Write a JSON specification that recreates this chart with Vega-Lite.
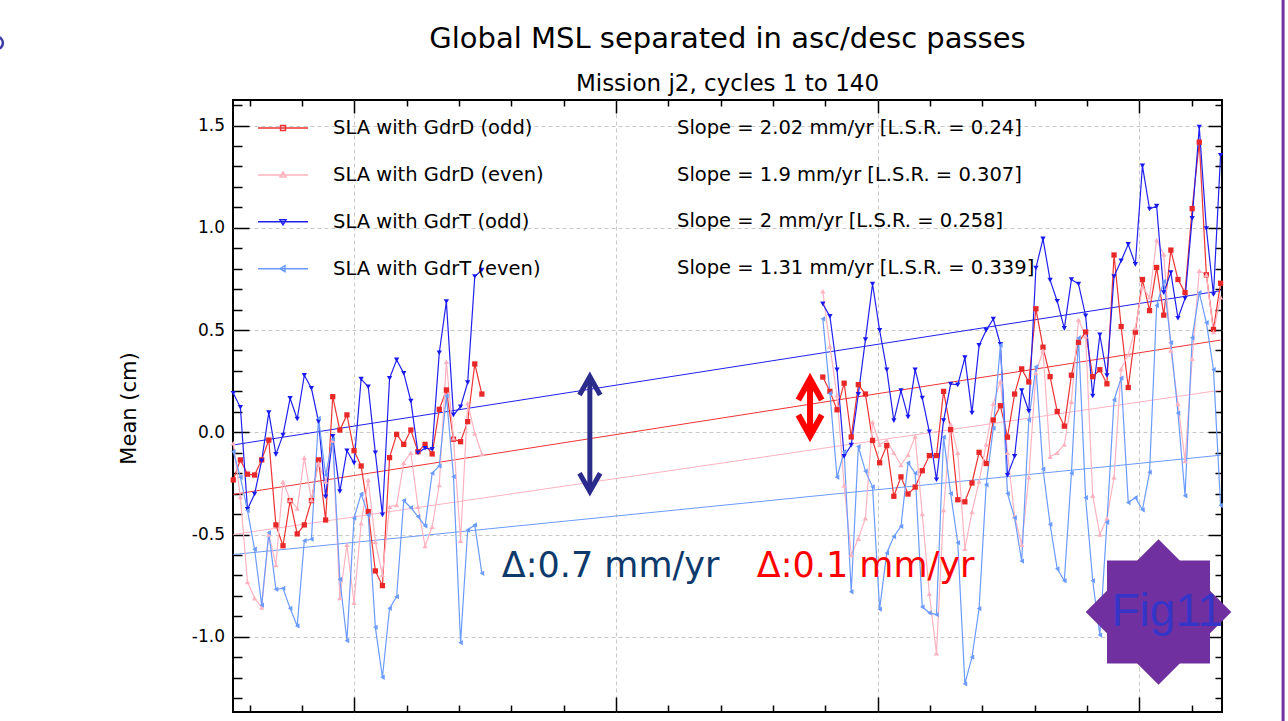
{
"$schema":"https://vega.github.io/schema/vega-lite/v6.json",
"width":989,"height":612,
"autosize":{"type":"none"},
"padding":{"left":233,"top":100,"right":66,"bottom":9},
"background":"#ffffff",
"title":{"text":"Global MSL separated in asc/desc passes","subtitle":"Mission j2, cycles 1 to 140","anchor":"middle","font":"DejaVu Sans","fontSize":29,"fontWeight":"normal","color":"#000000","subtitleFont":"DejaVu Sans","subtitleFontSize":23,"subtitleColor":"#000000","subtitlePadding":19,"offset":-97},
"config":{"view":{"stroke":"#000000","strokeWidth":2}},
"datasets":{
"trend":[
{"series":"SLA with GdrD (odd)","slope":"Slope = 2.02 mm/yr [L.S.R. = 0.24]","cycle":1,"value":-0.304},
{"series":"SLA with GdrD (odd)","slope":"Slope = 2.02 mm/yr [L.S.R. = 0.24]","cycle":140,"value":0.451},
{"series":"SLA with GdrD (even)","slope":"Slope = 1.9 mm/yr [L.S.R. = 0.307]","cycle":1,"value":-0.5},
{"series":"SLA with GdrD (even)","slope":"Slope = 1.9 mm/yr [L.S.R. = 0.307]","cycle":140,"value":0.206},
{"series":"SLA with GdrT (odd)","slope":"Slope = 2 mm/yr [L.S.R. = 0.258]","cycle":1,"value":-0.062},
{"series":"SLA with GdrT (odd)","slope":"Slope = 2 mm/yr [L.S.R. = 0.258]","cycle":140,"value":0.692},
{"series":"SLA with GdrT (even)","slope":"Slope = 1.31 mm/yr [L.S.R. = 0.339]","cycle":1,"value":-0.598},
{"series":"SLA with GdrT (even)","slope":"Slope = 1.31 mm/yr [L.S.R. = 0.339]","cycle":140,"value":-0.112}
],
"sla":[
{"series":"SLA with GdrD (odd)","cycle":1,"value":-0.233},{"series":"SLA with GdrD (odd)","cycle":2,"value":-0.135},{"series":"SLA with GdrD (odd)","cycle":3,"value":-0.205},{"series":"SLA with GdrD (odd)","cycle":4,"value":-0.209},{"series":"SLA with GdrD (odd)","cycle":5,"value":-0.135},{"series":"SLA with GdrD (odd)","cycle":6,"value":-0.038},{"series":"SLA with GdrD (odd)","cycle":7,"value":-0.453},{"series":"SLA with GdrD (odd)","cycle":8,"value":-0.555},{"series":"SLA with GdrD (odd)","cycle":9,"value":-0.334},{"series":"SLA with GdrD (odd)","cycle":10,"value":-0.497},{"series":"SLA with GdrD (odd)","cycle":11,"value":-0.453},{"series":"SLA with GdrD (odd)","cycle":12,"value":-0.334},{"series":"SLA with GdrD (odd)","cycle":13,"value":-0.135},{"series":"SLA with GdrD (odd)","cycle":14,"value":-0.429},{"series":"SLA with GdrD (odd)","cycle":15,"value":0.174},{"series":"SLA with GdrD (odd)","cycle":16,"value":0.011},{"series":"SLA with GdrD (odd)","cycle":17,"value":0.085},{"series":"SLA with GdrD (odd)","cycle":18,"value":-0.09},{"series":"SLA with GdrD (odd)","cycle":19,"value":-0.165},{"series":"SLA with GdrD (odd)","cycle":20,"value":-0.388},{"series":"SLA with GdrD (odd)","cycle":21,"value":-0.678},{"series":"SLA with GdrD (odd)","cycle":22,"value":-0.75},{"series":"SLA with GdrD (odd)","cycle":23,"value":-0.124},{"series":"SLA with GdrD (odd)","cycle":24,"value":-0.01},{"series":"SLA with GdrD (odd)","cycle":25,"value":-0.059},{"series":"SLA with GdrD (odd)","cycle":26,"value":0.011},{"series":"SLA with GdrD (odd)","cycle":27,"value":-0.095},{"series":"SLA with GdrD (odd)","cycle":28,"value":-0.059},{"series":"SLA with GdrD (odd)","cycle":29,"value":-0.106},{"series":"SLA with GdrD (odd)","cycle":30,"value":0.112},{"series":"SLA with GdrD (odd)","cycle":31,"value":0.207},{"series":"SLA with GdrD (odd)","cycle":32,"value":-0.034},{"series":"SLA with GdrD (odd)","cycle":33,"value":-0.046},{"series":"SLA with GdrD (odd)","cycle":34,"value":0.052},{"series":"SLA with GdrD (odd)","cycle":35,"value":0.334},{"series":"SLA with GdrD (odd)","cycle":36,"value":0.187},{"series":"SLA with GdrD (odd)","cycle":60,"value":null},
{"series":"SLA with GdrD (odd)","cycle":84,"value":0.27},{"series":"SLA with GdrD (odd)","cycle":85,"value":0.2},{"series":"SLA with GdrD (odd)","cycle":86,"value":0.11},{"series":"SLA with GdrD (odd)","cycle":87,"value":0.24},{"series":"SLA with GdrD (odd)","cycle":88,"value":-0.023},{"series":"SLA with GdrD (odd)","cycle":89,"value":0.233},{"series":"SLA with GdrD (odd)","cycle":90,"value":0.187},{"series":"SLA with GdrD (odd)","cycle":91,"value":-0.04},{"series":"SLA with GdrD (odd)","cycle":92,"value":-0.149},{"series":"SLA with GdrD (odd)","cycle":93,"value":-0.065},{"series":"SLA with GdrD (odd)","cycle":94,"value":-0.313},{"series":"SLA with GdrD (odd)","cycle":95,"value":-0.218},{"series":"SLA with GdrD (odd)","cycle":96,"value":-0.302},{"series":"SLA with GdrD (odd)","cycle":97,"value":-0.268},{"series":"SLA with GdrD (odd)","cycle":98,"value":-0.188},{"series":"SLA with GdrD (odd)","cycle":99,"value":-0.114},{"series":"SLA with GdrD (odd)","cycle":100,"value":-0.114},{"series":"SLA with GdrD (odd)","cycle":101,"value":0.2},{"series":"SLA with GdrD (odd)","cycle":102,"value":0.013},{"series":"SLA with GdrD (odd)","cycle":103,"value":-0.33},{"series":"SLA with GdrD (odd)","cycle":104,"value":-0.34},{"series":"SLA with GdrD (odd)","cycle":105,"value":-0.248},{"series":"SLA with GdrD (odd)","cycle":106,"value":-0.098},{"series":"SLA with GdrD (odd)","cycle":107,"value":-0.153},{"series":"SLA with GdrD (odd)","cycle":108,"value":0.06},{"series":"SLA with GdrD (odd)","cycle":109,"value":0.13},{"series":"SLA with GdrD (odd)","cycle":110,"value":-0.024},{"series":"SLA with GdrD (odd)","cycle":111,"value":0.187},{"series":"SLA with GdrD (odd)","cycle":112,"value":0.31},{"series":"SLA with GdrD (odd)","cycle":113,"value":0.246},{"series":"SLA with GdrD (odd)","cycle":114,"value":0.604},{"series":"SLA with GdrD (odd)","cycle":115,"value":0.416},{"series":"SLA with GdrD (odd)","cycle":116,"value":0.272},{"series":"SLA with GdrD (odd)","cycle":117,"value":0.102},{"series":"SLA with GdrD (odd)","cycle":118,"value":0.03},{"series":"SLA with GdrD (odd)","cycle":119,"value":0.279},{"series":"SLA with GdrD (odd)","cycle":120,"value":0.44},{"series":"SLA with GdrD (odd)","cycle":121,"value":0.49},{"series":"SLA with GdrD (odd)","cycle":122,"value":0.272},{"series":"SLA with GdrD (odd)","cycle":123,"value":0.306},{"series":"SLA with GdrD (odd)","cycle":124,"value":0.237},{"series":"SLA with GdrD (odd)","cycle":125,"value":0.867},{"series":"SLA with GdrD (odd)","cycle":126,"value":0.517},{"series":"SLA with GdrD (odd)","cycle":127,"value":0.219},{"series":"SLA with GdrD (odd)","cycle":128,"value":0.49},{"series":"SLA with GdrD (odd)","cycle":129,"value":0.747},{"series":"SLA with GdrD (odd)","cycle":130,"value":0.595},{"series":"SLA with GdrD (odd)","cycle":131,"value":0.806},{"series":"SLA with GdrD (odd)","cycle":132,"value":0.573},{"series":"SLA with GdrD (odd)","cycle":133,"value":0.891},{"series":"SLA with GdrD (odd)","cycle":134,"value":0.747},{"series":"SLA with GdrD (odd)","cycle":135,"value":0.683},{"series":"SLA with GdrD (odd)","cycle":136,"value":1.094},{"series":"SLA with GdrD (odd)","cycle":137,"value":1.419},{"series":"SLA with GdrD (odd)","cycle":138,"value":0.77},{"series":"SLA with GdrD (odd)","cycle":139,"value":0.503},{"series":"SLA with GdrD (odd)","cycle":140,"value":0.729},
{"series":"SLA with GdrD (even)","cycle":1,"value":-0.054},{"series":"SLA with GdrD (even)","cycle":2,"value":-0.316},{"series":"SLA with GdrD (even)","cycle":3,"value":-0.732},{"series":"SLA with GdrD (even)","cycle":4,"value":-0.811},{"series":"SLA with GdrD (even)","cycle":5,"value":-0.857},{"series":"SLA with GdrD (even)","cycle":6,"value":-0.5},{"series":"SLA with GdrD (even)","cycle":7,"value":-0.649},{"series":"SLA with GdrD (even)","cycle":8,"value":-0.242},{"series":"SLA with GdrD (even)","cycle":9,"value":-0.331},{"series":"SLA with GdrD (even)","cycle":10,"value":-0.372},{"series":"SLA with GdrD (even)","cycle":11,"value":-0.124},{"series":"SLA with GdrD (even)","cycle":12,"value":-0.331},{"series":"SLA with GdrD (even)","cycle":13,"value":-0.15},{"series":"SLA with GdrD (even)","cycle":14,"value":-0.24},{"series":"SLA with GdrD (even)","cycle":15,"value":-0.04},{"series":"SLA with GdrD (even)","cycle":16,"value":-0.81},{"series":"SLA with GdrD (even)","cycle":17,"value":-0.55},{"series":"SLA with GdrD (even)","cycle":18,"value":-0.833},{"series":"SLA with GdrD (even)","cycle":19,"value":-0.445},{"series":"SLA with GdrD (even)","cycle":20,"value":-0.233},{"series":"SLA with GdrD (even)","cycle":21,"value":-0.535},{"series":"SLA with GdrD (even)","cycle":22,"value":-0.698},{"series":"SLA with GdrD (even)","cycle":23,"value":-0.364},{"series":"SLA with GdrD (even)","cycle":24,"value":-0.356},{"series":"SLA with GdrD (even)","cycle":25,"value":-0.149},{"series":"SLA with GdrD (even)","cycle":26,"value":-0.1},{"series":"SLA with GdrD (even)","cycle":27,"value":-0.364},{"series":"SLA with GdrD (even)","cycle":28,"value":-0.556},{"series":"SLA with GdrD (even)","cycle":29,"value":-0.462},{"series":"SLA with GdrD (even)","cycle":30,"value":-0.258},{"series":"SLA with GdrD (even)","cycle":31,"value":0.345},{"series":"SLA with GdrD (even)","cycle":32,"value":-0.029},{"series":"SLA with GdrD (even)","cycle":33,"value":-0.53},{"series":"SLA with GdrD (even)","cycle":34,"value":0.142},{"series":"SLA with GdrD (even)","cycle":35,"value":-0.005},{"series":"SLA with GdrD (even)","cycle":36,"value":-0.106},{"series":"SLA with GdrD (even)","cycle":60,"value":null},
{"series":"SLA with GdrD (even)","cycle":84,"value":0.69},{"series":"SLA with GdrD (even)","cycle":85,"value":0.42},{"series":"SLA with GdrD (even)","cycle":86,"value":0.18},{"series":"SLA with GdrD (even)","cycle":87,"value":-0.26},{"series":"SLA with GdrD (even)","cycle":88,"value":-0.6},{"series":"SLA with GdrD (even)","cycle":89,"value":-0.52},{"series":"SLA with GdrD (even)","cycle":90,"value":-0.42},{"series":"SLA with GdrD (even)","cycle":91,"value":0.05},{"series":"SLA with GdrD (even)","cycle":92,"value":-0.06},{"series":"SLA with GdrD (even)","cycle":93,"value":-0.04},{"series":"SLA with GdrD (even)","cycle":94,"value":-0.1},{"series":"SLA with GdrD (even)","cycle":95,"value":-0.16},{"series":"SLA with GdrD (even)","cycle":96,"value":-0.11},{"series":"SLA with GdrD (even)","cycle":97,"value":-0.02},{"series":"SLA with GdrD (even)","cycle":98,"value":-0.4},{"series":"SLA with GdrD (even)","cycle":99,"value":-0.79},{"series":"SLA with GdrD (even)","cycle":100,"value":-1.08},{"series":"SLA with GdrD (even)","cycle":101,"value":-0.38},{"series":"SLA with GdrD (even)","cycle":102,"value":0.04},{"series":"SLA with GdrD (even)","cycle":103,"value":-0.1},{"series":"SLA with GdrD (even)","cycle":104,"value":-0.57},{"series":"SLA with GdrD (even)","cycle":105,"value":-0.39},{"series":"SLA with GdrD (even)","cycle":106,"value":-0.24},{"series":"SLA with GdrD (even)","cycle":107,"value":-0.06},{"series":"SLA with GdrD (even)","cycle":108,"value":0.14},{"series":"SLA with GdrD (even)","cycle":109,"value":0.25},{"series":"SLA with GdrD (even)","cycle":110,"value":-0.1},{"series":"SLA with GdrD (even)","cycle":111,"value":-0.41},{"series":"SLA with GdrD (even)","cycle":112,"value":-0.55},{"series":"SLA with GdrD (even)","cycle":113,"value":-0.22},{"series":"SLA with GdrD (even)","cycle":114,"value":0.29},{"series":"SLA with GdrD (even)","cycle":115,"value":0.4},{"series":"SLA with GdrD (even)","cycle":116,"value":-0.12},{"series":"SLA with GdrD (even)","cycle":117,"value":-0.1},{"series":"SLA with GdrD (even)","cycle":118,"value":-0.06},{"series":"SLA with GdrD (even)","cycle":119,"value":0.15},{"series":"SLA with GdrD (even)","cycle":120,"value":0.55},{"series":"SLA with GdrD (even)","cycle":121,"value":0.47},{"series":"SLA with GdrD (even)","cycle":122,"value":-0.31},{"series":"SLA with GdrD (even)","cycle":123,"value":-0.5},{"series":"SLA with GdrD (even)","cycle":124,"value":-0.42},{"series":"SLA with GdrD (even)","cycle":125,"value":-0.22},{"series":"SLA with GdrD (even)","cycle":126,"value":0.31},{"series":"SLA with GdrD (even)","cycle":127,"value":0.38},{"series":"SLA with GdrD (even)","cycle":128,"value":0.51},{"series":"SLA with GdrD (even)","cycle":129,"value":0.71},{"series":"SLA with GdrD (even)","cycle":130,"value":0.66},{"series":"SLA with GdrD (even)","cycle":131,"value":0.94},{"series":"SLA with GdrD (even)","cycle":132,"value":0.87},{"series":"SLA with GdrD (even)","cycle":133,"value":0.4},{"series":"SLA with GdrD (even)","cycle":134,"value":0.14},{"series":"SLA with GdrD (even)","cycle":135,"value":-0.14},{"series":"SLA with GdrD (even)","cycle":136,"value":0.36},{"series":"SLA with GdrD (even)","cycle":137,"value":0.79},{"series":"SLA with GdrD (even)","cycle":138,"value":0.77},{"series":"SLA with GdrD (even)","cycle":139,"value":0.49},{"series":"SLA with GdrD (even)","cycle":140,"value":0.66},
{"series":"SLA with GdrT (odd)","cycle":1,"value":0.191},{"series":"SLA with GdrT (odd)","cycle":2,"value":0.122},{"series":"SLA with GdrT (odd)","cycle":3,"value":-0.377},{"series":"SLA with GdrT (odd)","cycle":4,"value":-0.302},{"series":"SLA with GdrT (odd)","cycle":5,"value":-0.139},{"series":"SLA with GdrT (odd)","cycle":6,"value":0.096},{"series":"SLA with GdrT (odd)","cycle":7,"value":-0.108},{"series":"SLA with GdrT (odd)","cycle":8,"value":-0.013},{"series":"SLA with GdrT (odd)","cycle":9,"value":0.166},{"series":"SLA with GdrT (odd)","cycle":10,"value":0.065},{"series":"SLA with GdrT (odd)","cycle":11,"value":0.279},{"series":"SLA with GdrT (odd)","cycle":12,"value":0.215},{"series":"SLA with GdrT (odd)","cycle":13,"value":0.052},{"series":"SLA with GdrT (odd)","cycle":14,"value":-0.315},{"series":"SLA with GdrT (odd)","cycle":15,"value":-0.02},{"series":"SLA with GdrT (odd)","cycle":16,"value":-0.29},{"series":"SLA with GdrT (odd)","cycle":17,"value":-0.09},{"series":"SLA with GdrT (odd)","cycle":18,"value":-0.15},{"series":"SLA with GdrT (odd)","cycle":19,"value":0.26},{"series":"SLA with GdrT (odd)","cycle":20,"value":0.223},{"series":"SLA with GdrT (odd)","cycle":21,"value":-0.1},{"series":"SLA with GdrT (odd)","cycle":22,"value":-0.404},{"series":"SLA with GdrT (odd)","cycle":23,"value":0.264},{"series":"SLA with GdrT (odd)","cycle":24,"value":0.354},{"series":"SLA with GdrT (odd)","cycle":25,"value":0.289},{"series":"SLA with GdrT (odd)","cycle":26,"value":0.153},{"series":"SLA with GdrT (odd)","cycle":27,"value":-0.1},{"series":"SLA with GdrT (odd)","cycle":28,"value":-0.078},{"series":"SLA with GdrT (odd)","cycle":29,"value":-0.083},{"series":"SLA with GdrT (odd)","cycle":30,"value":0.389},{"series":"SLA with GdrT (odd)","cycle":31,"value":0.639},{"series":"SLA with GdrT (odd)","cycle":32,"value":0.085},{"series":"SLA with GdrT (odd)","cycle":33,"value":0.125},{"series":"SLA with GdrT (odd)","cycle":34,"value":0.243},{"series":"SLA with GdrT (odd)","cycle":35,"value":0.762},{"series":"SLA with GdrT (odd)","cycle":36,"value":0.794},{"series":"SLA with GdrT (odd)","cycle":60,"value":null},
{"series":"SLA with GdrT (odd)","cycle":84,"value":0.628},{"series":"SLA with GdrT (odd)","cycle":85,"value":0.567},{"series":"SLA with GdrT (odd)","cycle":86,"value":0.306},{"series":"SLA with GdrT (odd)","cycle":87,"value":-0.118},{"series":"SLA with GdrT (odd)","cycle":88,"value":-0.063},{"series":"SLA with GdrT (odd)","cycle":89,"value":0.186},{"series":"SLA with GdrT (odd)","cycle":90,"value":0.453},{"series":"SLA with GdrT (odd)","cycle":91,"value":0.725},{"series":"SLA with GdrT (odd)","cycle":92,"value":0.499},{"series":"SLA with GdrT (odd)","cycle":93,"value":0.306},{"series":"SLA with GdrT (odd)","cycle":94,"value":0.057},{"series":"SLA with GdrT (odd)","cycle":95,"value":0.204},{"series":"SLA with GdrT (odd)","cycle":96,"value":0.075},{"series":"SLA with GdrT (odd)","cycle":97,"value":0.306},{"series":"SLA with GdrT (odd)","cycle":98,"value":0.168},{"series":"SLA with GdrT (odd)","cycle":99,"value":0.002},{"series":"SLA with GdrT (odd)","cycle":100,"value":-0.232},{"series":"SLA with GdrT (odd)","cycle":101,"value":0.057},{"series":"SLA with GdrT (odd)","cycle":102,"value":0.236},{"series":"SLA with GdrT (odd)","cycle":103,"value":0.232},{"series":"SLA with GdrT (odd)","cycle":104,"value":0.365},{"series":"SLA with GdrT (odd)","cycle":105,"value":0.094},{"series":"SLA with GdrT (odd)","cycle":106,"value":0.425},{"series":"SLA with GdrT (odd)","cycle":107,"value":0.499},{"series":"SLA with GdrT (odd)","cycle":108,"value":0.554},{"series":"SLA with GdrT (odd)","cycle":109,"value":0.43},{"series":"SLA with GdrT (odd)","cycle":110,"value":-0.21},{"series":"SLA with GdrT (odd)","cycle":111,"value":-0.118},{"series":"SLA with GdrT (odd)","cycle":112,"value":0.204},{"series":"SLA with GdrT (odd)","cycle":113,"value":0.103},{"series":"SLA with GdrT (odd)","cycle":114,"value":0.803},{"series":"SLA with GdrT (odd)","cycle":115,"value":0.946},{"series":"SLA with GdrT (odd)","cycle":116,"value":0.744},{"series":"SLA with GdrT (odd)","cycle":117,"value":0.641},{"series":"SLA with GdrT (odd)","cycle":118,"value":0.508},{"series":"SLA with GdrT (odd)","cycle":119,"value":0.747},{"series":"SLA with GdrT (odd)","cycle":120,"value":0.725},{"series":"SLA with GdrT (odd)","cycle":121,"value":0.57},{"series":"SLA with GdrT (odd)","cycle":122,"value":0.177},{"series":"SLA with GdrT (odd)","cycle":123,"value":0.477},{"series":"SLA with GdrT (odd)","cycle":124,"value":0.278},{"series":"SLA with GdrT (odd)","cycle":125,"value":0.762},{"series":"SLA with GdrT (odd)","cycle":126,"value":0.839},{"series":"SLA with GdrT (odd)","cycle":127,"value":0.919},{"series":"SLA with GdrT (odd)","cycle":128,"value":0.821},{"series":"SLA with GdrT (odd)","cycle":129,"value":1.303},{"series":"SLA with GdrT (odd)","cycle":130,"value":1.092},{"series":"SLA with GdrT (odd)","cycle":131,"value":1.106},{"series":"SLA with GdrT (odd)","cycle":132,"value":0.683},{"series":"SLA with GdrT (odd)","cycle":133,"value":0.781},{"series":"SLA with GdrT (odd)","cycle":134,"value":0.558},{"series":"SLA with GdrT (odd)","cycle":135,"value":0.655},{"series":"SLA with GdrT (odd)","cycle":136,"value":1.046},{"series":"SLA with GdrT (odd)","cycle":137,"value":1.493},{"series":"SLA with GdrT (odd)","cycle":138,"value":0.996},{"series":"SLA with GdrT (odd)","cycle":139,"value":0.674},{"series":"SLA with GdrT (odd)","cycle":140,"value":1.355},
{"series":"SLA with GdrT (even)","cycle":1,"value":-0.095},{"series":"SLA with GdrT (even)","cycle":2,"value":-0.22},{"series":"SLA with GdrT (even)","cycle":3,"value":-0.383},{"series":"SLA with GdrT (even)","cycle":4,"value":-0.572},{"series":"SLA with GdrT (even)","cycle":5,"value":-0.845},{"series":"SLA with GdrT (even)","cycle":6,"value":-0.491},{"series":"SLA with GdrT (even)","cycle":7,"value":-0.768},{"series":"SLA with GdrT (even)","cycle":8,"value":-0.763},{"series":"SLA with GdrT (even)","cycle":9,"value":-0.861},{"series":"SLA with GdrT (even)","cycle":10,"value":-0.947},{"series":"SLA with GdrT (even)","cycle":11,"value":-0.53},{"series":"SLA with GdrT (even)","cycle":12,"value":-0.523},{"series":"SLA with GdrT (even)","cycle":13,"value":0.068},{"series":"SLA with GdrT (even)","cycle":14,"value":-0.209},{"series":"SLA with GdrT (even)","cycle":15,"value":-0.034},{"series":"SLA with GdrT (even)","cycle":16,"value":-0.719},{"series":"SLA with GdrT (even)","cycle":17,"value":-1.019},{"series":"SLA with GdrT (even)","cycle":18,"value":-0.42},{"series":"SLA with GdrT (even)","cycle":19,"value":-0.302},{"series":"SLA with GdrT (even)","cycle":20,"value":-0.404},{"series":"SLA with GdrT (even)","cycle":21,"value":-0.954},{"series":"SLA with GdrT (even)","cycle":22,"value":-1.198},{"series":"SLA with GdrT (even)","cycle":23,"value":-0.861},{"series":"SLA with GdrT (even)","cycle":24,"value":-0.804},{"series":"SLA with GdrT (even)","cycle":25,"value":-0.334},{"series":"SLA with GdrT (even)","cycle":26,"value":-0.369},{"series":"SLA with GdrT (even)","cycle":27,"value":-0.413},{"series":"SLA with GdrT (even)","cycle":28,"value":-0.458},{"series":"SLA with GdrT (even)","cycle":29,"value":-0.2},{"series":"SLA with GdrT (even)","cycle":30,"value":-0.165},{"series":"SLA with GdrT (even)","cycle":31,"value":0.178},{"series":"SLA with GdrT (even)","cycle":32,"value":-0.217},{"series":"SLA with GdrT (even)","cycle":33,"value":-1.029},{"series":"SLA with GdrT (even)","cycle":34,"value":-0.478},{"series":"SLA with GdrT (even)","cycle":35,"value":-0.453},{"series":"SLA with GdrT (even)","cycle":36,"value":-0.69},{"series":"SLA with GdrT (even)","cycle":60,"value":null},
{"series":"SLA with GdrT (even)","cycle":84,"value":0.555},{"series":"SLA with GdrT (even)","cycle":85,"value":0.19},{"series":"SLA with GdrT (even)","cycle":86,"value":-0.22},{"series":"SLA with GdrT (even)","cycle":87,"value":-0.095},{"series":"SLA with GdrT (even)","cycle":88,"value":-0.78},{"series":"SLA with GdrT (even)","cycle":89,"value":-0.07},{"series":"SLA with GdrT (even)","cycle":90,"value":-0.19},{"series":"SLA with GdrT (even)","cycle":91,"value":-0.267},{"series":"SLA with GdrT (even)","cycle":92,"value":-0.865},{"series":"SLA with GdrT (even)","cycle":93,"value":-0.59},{"series":"SLA with GdrT (even)","cycle":94,"value":-0.51},{"series":"SLA with GdrT (even)","cycle":95,"value":-0.46},{"series":"SLA with GdrT (even)","cycle":96,"value":-0.15},{"series":"SLA with GdrT (even)","cycle":97,"value":-0.2},{"series":"SLA with GdrT (even)","cycle":98,"value":-0.854},{"series":"SLA with GdrT (even)","cycle":99,"value":-0.883},{"series":"SLA with GdrT (even)","cycle":100,"value":-0.892},{"series":"SLA with GdrT (even)","cycle":101,"value":-0.024},{"series":"SLA with GdrT (even)","cycle":102,"value":-0.3},{"series":"SLA with GdrT (even)","cycle":103,"value":-0.54},{"series":"SLA with GdrT (even)","cycle":104,"value":-1.23},{"series":"SLA with GdrT (even)","cycle":105,"value":-1.1},{"series":"SLA with GdrT (even)","cycle":106,"value":-0.862},{"series":"SLA with GdrT (even)","cycle":107,"value":-0.257},{"series":"SLA with GdrT (even)","cycle":108,"value":0.02},{"series":"SLA with GdrT (even)","cycle":109,"value":0.426},{"series":"SLA with GdrT (even)","cycle":110,"value":-0.3},{"series":"SLA with GdrT (even)","cycle":111,"value":-0.418},{"series":"SLA with GdrT (even)","cycle":112,"value":-0.63},{"series":"SLA with GdrT (even)","cycle":113,"value":0.06},{"series":"SLA with GdrT (even)","cycle":114,"value":0.32},{"series":"SLA with GdrT (even)","cycle":115,"value":-0.18},{"series":"SLA with GdrT (even)","cycle":116,"value":-0.45},{"series":"SLA with GdrT (even)","cycle":117,"value":-0.668},{"series":"SLA with GdrT (even)","cycle":118,"value":-0.726},{"series":"SLA with GdrT (even)","cycle":119,"value":-0.2},{"series":"SLA with GdrT (even)","cycle":120,"value":0.461},{"series":"SLA with GdrT (even)","cycle":121,"value":-0.32},{"series":"SLA with GdrT (even)","cycle":122,"value":-0.726},{"series":"SLA with GdrT (even)","cycle":123,"value":-0.992},{"series":"SLA with GdrT (even)","cycle":124,"value":-0.44},{"series":"SLA with GdrT (even)","cycle":125,"value":0.158},{"series":"SLA with GdrT (even)","cycle":126,"value":0.265},{"series":"SLA with GdrT (even)","cycle":127,"value":-0.344},{"series":"SLA with GdrT (even)","cycle":128,"value":-0.32},{"series":"SLA with GdrT (even)","cycle":129,"value":-0.379},{"series":"SLA with GdrT (even)","cycle":130,"value":-0.195},{"series":"SLA with GdrT (even)","cycle":131,"value":0.62},{"series":"SLA with GdrT (even)","cycle":132,"value":0.738},{"series":"SLA with GdrT (even)","cycle":133,"value":0.438},{"series":"SLA with GdrT (even)","cycle":134,"value":0.094},{"series":"SLA with GdrT (even)","cycle":135,"value":-0.311},{"series":"SLA with GdrT (even)","cycle":136,"value":0.462},{"series":"SLA with GdrT (even)","cycle":137,"value":0.683},{"series":"SLA with GdrT (even)","cycle":138,"value":0.536},{"series":"SLA with GdrT (even)","cycle":139,"value":0.306},{"series":"SLA with GdrT (even)","cycle":140,"value":-0.357}
]},
"resolve":{"scale":{"color":"independent","shape":"independent"},"axis":{"x":"independent","y":"independent"}},
"layer":[
{"data":{"name":"trend"},"mark":{"type":"line","strokeWidth":1},
 "encoding":{
  "x":{"field":"cycle","type":"quantitative","scale":{"domain":[0.96,140.2],"nice":false,"zero":false},
   "axis":{"orient":"bottom","values":[3.29,10.66,18.03,25.4,32.77,40.13,47.5,54.87,62.24,69.61,76.98,84.34,91.71,99.08,106.45,113.82,121.18,128.55,135.92],"domain":false,"labels":false,"title":null,"grid":true,"gridColor":"#c8c8c8","gridDash":[4,3],"gridWidth":1,
    "gridOpacity":{"condition":{"test":"indexof([18.03,54.87,91.71,128.55], datum.value) >= 0","value":1},"value":0},
    "tickColor":"#000000","tickWidth":1.5,
    "tickSize":{"condition":{"test":"indexof([18.03,54.87,91.71,128.55], datum.value) >= 0","value":-15},"value":-7}}},
  "y":{"field":"value","type":"quantitative","scale":{"domain":[-1.368,1.625],"nice":false,"zero":false},
   "axis":{"orient":"left","values":[-1.3,-1.2,-1.1,-1.0,-0.9,-0.8,-0.7,-0.6,-0.5,-0.4,-0.3,-0.2,-0.1,0,0.1,0.2,0.3,0.4,0.5,0.6,0.7,0.8,0.9,1.0,1.1,1.2,1.3,1.4,1.5,1.6],"domain":false,"grid":true,"gridColor":"#c8c8c8","gridDash":[4,3],"gridWidth":1,
    "gridOpacity":{"condition":{"test":"abs(datum.value*2-round(datum.value*2))<0.001","value":1},"value":0},
    "tickColor":"#000000","tickWidth":1.5,
    "tickSize":{"condition":{"test":"abs(datum.value*2-round(datum.value*2))<0.001","value":-16},"value":-9},
    "labelExpr":"abs(datum.value*2-round(datum.value*2))<0.001 ? replace(format(datum.value,'.1f'),'\u2212','-') : ''",
    "labelFont":"DejaVu Sans","labelFontSize":17,"labelColor":"#000000","labelPadding":24.5,"labelFlush":false,"labelOverlap":false,
    "title":"Mean (cm)","titleFont":"DejaVu Sans","titleFontSize":21,"titleFontWeight":"normal","titleColor":"#000000","titleX":-98,"titleY":308,"titleAngle":270,"titleBaseline":"alphabetic","titleAlign":"center"}},
  "color":{"field":"series","type":"nominal","scale":{"domain":["SLA with GdrD (odd)","SLA with GdrD (even)","SLA with GdrT (odd)","SLA with GdrT (even)"],"range":["#ee3333","#ffb3c0","#2020f0","#6b9bff"]},"legend":null}
 }},
{"data":{"name":"sla"},"mark":{"type":"line","strokeWidth":1.2,"invalid":"break-paths-filter-domains"},
 "encoding":{
  "x":{"field":"cycle","type":"quantitative","scale":{"domain":[0.96,140.2],"nice":false,"zero":false},
   "axis":{"orient":"top","values":[3.29,10.66,18.03,25.4,32.77,40.13,47.5,54.87,62.24,69.61,76.98,84.34,91.71,99.08,106.45,113.82,121.18,128.55,135.92],"domain":false,"labels":false,"title":null,"grid":false,"tickColor":"#000000","tickWidth":1.5,
    "tickSize":{"condition":{"test":"indexof([18.03,54.87,91.71,128.55], datum.value) >= 0","value":-13},"value":-6}}},
  "y":{"field":"value","type":"quantitative","scale":{"domain":[-1.368,1.625],"nice":false,"zero":false},
   "axis":{"orient":"right","values":[-1.3,-1.2,-1.1,-1.0,-0.9,-0.8,-0.7,-0.6,-0.5,-0.4,-0.3,-0.2,-0.1,0,0.1,0.2,0.3,0.4,0.5,0.6,0.7,0.8,0.9,1.0,1.1,1.2,1.3,1.4,1.5,1.6],"domain":false,"labels":false,"title":null,"grid":false,"tickColor":"#000000","tickWidth":1.5,
    "tickSize":{"condition":{"test":"abs(datum.value*2-round(datum.value*2))<0.001","value":-14},"value":-7}}},
  "color":{"field":"series","type":"nominal","scale":{"domain":["SLA with GdrD (odd)","SLA with GdrD (even)","SLA with GdrT (odd)","SLA with GdrT (even)"],"range":["#ee3333","#ffb3c0","#2020f0","#6b9bff"]},"legend":null}
 }},
{"data":{"name":"sla"},"mark":{"type":"point","filled":true,"size":28,"opacity":1},
 "encoding":{
  "x":{"field":"cycle","type":"quantitative","axis":null},
  "y":{"field":"value","type":"quantitative","axis":null},
  "color":{"field":"series","type":"nominal","scale":{"domain":["SLA with GdrD (odd)","SLA with GdrD (even)","SLA with GdrT (odd)","SLA with GdrT (even)"],"range":["#e82828","#ffb3c0","#1818f0","#6b9bff"]},"legend":null},
  "shape":{"field":"series","type":"nominal","scale":{"domain":["SLA with GdrD (odd)","SLA with GdrD (even)","SLA with GdrT (odd)","SLA with GdrT (even)"],"range":["square","triangle-up","triangle-down","triangle-left"]},"legend":null}
 }},
{"data":{"name":"trend"},"mark":{"type":"point","filled":false,"opacity":0},
 "encoding":{
  "x":{"field":"cycle","type":"quantitative","axis":null},
  "y":{"field":"value","type":"quantitative","axis":null},
  "color":{"field":"series","type":"nominal","scale":{"domain":["SLA with GdrD (odd)","SLA with GdrD (even)","SLA with GdrT (odd)","SLA with GdrT (even)"],"range":["#ee3333","#ffb3c0","#2020f0","#6b9bff"]},
   "legend":{"orient":"none","legendX":29,"legendY":7,"title":null,"direction":"vertical","symbolSize":1600,"symbolStrokeWidth":1.5,"symbolOpacity":1,"labelFont":"DejaVu Sans","labelFontSize":19.5,"labelColor":"#000000","labelOffset":29,"labelLimit":800,"rowPadding":15.9,"padding":0}},
  "shape":{"field":"series","type":"nominal","scale":{"domain":["SLA with GdrD (odd)","SLA with GdrD (even)","SLA with GdrT (odd)","SLA with GdrT (even)"],"range":["M-1.25,0H1.25M-0.125,-0.125H0.125V0.125H-0.125Z","M-1.25,0H1.25M-0.15,0.1L0,-0.15L0.15,0.1Z","M-1.25,0H1.25M-0.15,-0.1L0,0.15L0.15,-0.1Z","M-1.25,0H1.25M0.1,-0.15L-0.15,0L0.1,0.15Z"]},
   "legend":{"orient":"none","legendX":29,"legendY":7,"title":null,"direction":"vertical","symbolSize":1600,"symbolStrokeWidth":1.5,"symbolOpacity":1,"labelFont":"DejaVu Sans","labelFontSize":19.5,"labelColor":"#000000","labelOffset":29,"labelLimit":800,"rowPadding":15.9,"padding":0}}
 }},
{"data":{"name":"trend"},"mark":{"type":"point","opacity":0},
 "encoding":{
  "x":{"field":"cycle","type":"quantitative","axis":null},
  "y":{"field":"value","type":"quantitative","axis":null},
  "shape":{"field":"slope","type":"nominal","scale":{"domain":["Slope = 2.02 mm/yr [L.S.R. = 0.24]","Slope = 1.9 mm/yr [L.S.R. = 0.307]","Slope = 2 mm/yr [L.S.R. = 0.258]","Slope = 1.31 mm/yr [L.S.R. = 0.339]"],"range":["circle","circle","circle","circle"]},
   "legend":{"orient":"none","legendX":402,"legendY":7,"title":null,"direction":"vertical","symbolSize":1600,"symbolStrokeWidth":1.5,"symbolOpacity":0,"labelFont":"DejaVu Sans","labelFontSize":19.5,"labelColor":"#000000","labelOffset":0,"labelLimit":800,"rowPadding":5.7,"padding":0}}
 }},
{"data":{"values":[{}]},"mark":{"type":"rule","color":"#2b2b8c","strokeWidth":5},
 "encoding":{"x":{"datum":51.2,"type":"quantitative","axis":null},"y":{"datum":0.25,"type":"quantitative","axis":null},"y2":{"datum":-0.27}}},
{"data":{"values":[{}]},"mark":{"type":"point","shape":"M-1,0.885L0,-0.885L1,0.885","size":428,"filled":false,"stroke":"#2b2b8c","strokeWidth":5,"opacity":1,"strokeJoin":"miter","strokeCap":"butt"},
 "encoding":{"x":{"datum":51.2,"type":"quantitative","axis":null},"y":{"datum":0.227,"type":"quantitative","axis":null}}},
{"data":{"values":[{}]},"mark":{"type":"point","shape":"M-1,-0.885L0,0.885L1,-0.885","size":428,"filled":false,"stroke":"#2b2b8c","strokeWidth":5,"opacity":1,"strokeJoin":"miter","strokeCap":"butt"},
 "encoding":{"x":{"datum":51.2,"type":"quantitative","axis":null},"y":{"datum":-0.245,"type":"quantitative","axis":null}}},
{"data":{"values":[{}]},"mark":{"type":"rule","color":"#ff0000","strokeWidth":6},
 "encoding":{"x":{"datum":82.2,"type":"quantitative","axis":null},"y":{"datum":0.25,"type":"quantitative","axis":null},"y2":{"datum":-0.01}}},
{"data":{"values":[{}]},"mark":{"type":"point","shape":"M-1,0.9L0,-0.9L1,0.9","size":547,"filled":false,"stroke":"#ff0000","strokeWidth":6,"opacity":1,"strokeJoin":"miter","strokeCap":"butt"},
 "encoding":{"x":{"datum":82.2,"type":"quantitative","axis":null},"y":{"datum":0.209,"type":"quantitative","axis":null}}},
{"data":{"values":[{}]},"mark":{"type":"point","shape":"M-1,-0.9L0,0.9L1,-0.9","size":547,"filled":false,"stroke":"#ff0000","strokeWidth":6,"opacity":1,"strokeJoin":"miter","strokeCap":"butt"},
 "encoding":{"x":{"datum":82.2,"type":"quantitative","axis":null},"y":{"datum":0.033,"type":"quantitative","axis":null}}},
{"data":{"values":[{}]},"mark":{"type":"text","text":"Δ:0.7 mm/yr","font":"DejaVu Sans","fontSize":35,"color":"#0e3a6b","align":"left","baseline":"alphabetic"},
 "encoding":{"x":{"datum":38.8,"type":"quantitative","axis":null},"y":{"datum":-0.706,"type":"quantitative","axis":null}}},
{"data":{"values":[{}]},"mark":{"type":"text","text":"Δ:0.1 mm/yr","font":"DejaVu Sans","fontSize":35,"color":"#ff0000","align":"left","baseline":"alphabetic"},
 "encoding":{"x":{"datum":74.7,"type":"quantitative","axis":null},"y":{"datum":-0.706,"type":"quantitative","axis":null}}},
{"data":{"values":[{}]},"mark":{"type":"point","shape":"square","size":10609,"filled":true,"color":"#7030a0","opacity":1},
 "encoding":{"x":{"datum":131.26,"type":"quantitative","axis":null},"y":{"datum":-0.879,"type":"quantitative","axis":null}}},
{"data":{"values":[{}]},"mark":{"type":"point","shape":"square","size":10609,"angle":45,"filled":true,"color":"#7030a0","opacity":1},
 "encoding":{"x":{"datum":131.26,"type":"quantitative","axis":null},"y":{"datum":-0.879,"type":"quantitative","axis":null}}},
{"data":{"values":[{}]},"mark":{"type":"text","text":"Fig11","font":"Liberation Sans","fontSize":46,"color":"#3535c8","align":"center","baseline":"alphabetic"},
 "encoding":{"x":{"datum":132.5,"type":"quantitative","axis":null},"y":{"datum":-0.947,"type":"quantitative","axis":null}}},
{"data":{"values":[{}]},"mark":{"type":"rule","color":"#7030a0","strokeWidth":3},
 "encoding":{"x":{"datum":148.8,"type":"quantitative","axis":null},"y":{"datum":2.114,"type":"quantitative","axis":null},"y2":{"datum":-1.412}}},
{"data":{"values":[{}]},"mark":{"type":"point","shape":"circle","size":150,"filled":false,"stroke":"#3c3ca8","strokeWidth":2.5,"opacity":1},
 "encoding":{"x":{"datum":-32.3,"type":"quantitative","axis":null},"y":{"datum":1.904,"type":"quantitative","axis":null}}}
]
}
